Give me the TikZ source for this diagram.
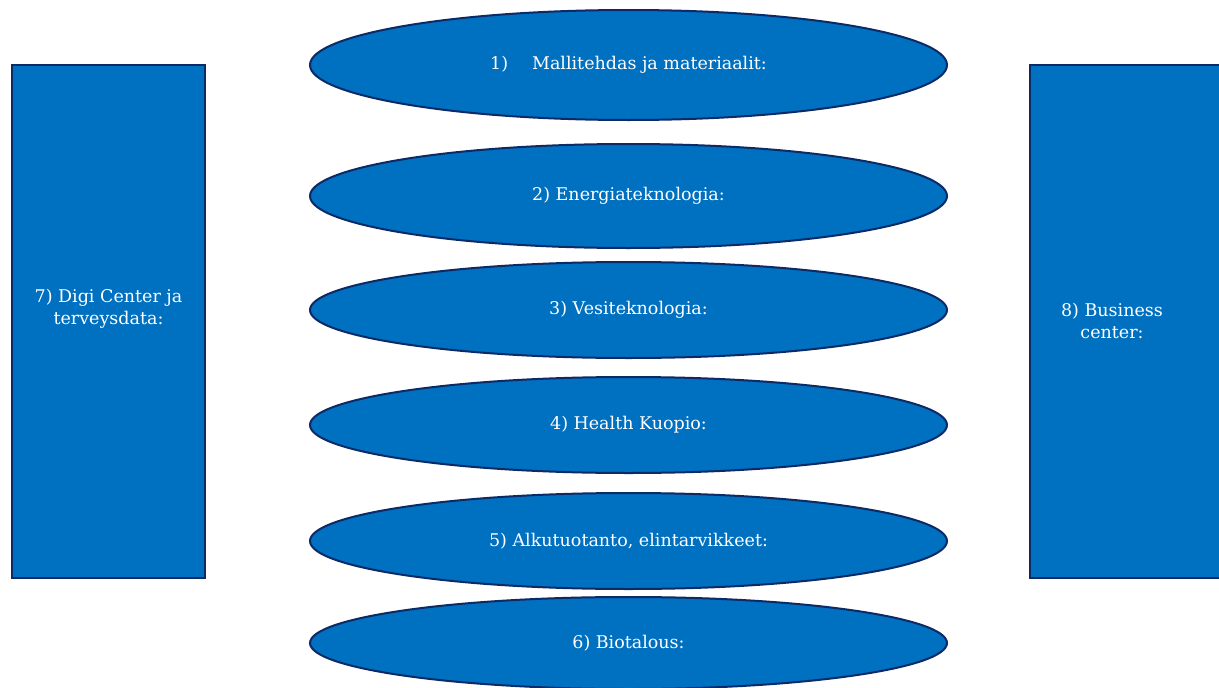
\documentclass[tikz,border=0pt]{standalone}
\usepackage{fontspec}
\setmainfont{DejaVu Serif}
\usetikzlibrary{shapes.geometric}
\definecolor{boxblue}{HTML}{0070C0}
\definecolor{edgeblue}{HTML}{0B2A66}
\begin{document}
\begin{tikzpicture}[x=1pt,y=-1pt,
  blob/.style={ellipse, draw=edgeblue, fill=boxblue, line width=2pt, inner sep=0pt,
    minimum width=637pt, text=white, font=\fontsize{17.5}{22}\selectfont},
  panel/.style={rectangle, draw=edgeblue, fill=boxblue, line width=2pt, inner sep=0pt,
    text=white, align=center, font=\fontsize{17.5}{22}\selectfont},
  lbl/.style={text=white, align=center, font=\fontsize{17.5}{22}\selectfont}]
\useasboundingbox (0,0) rectangle (1219,688);
\fill[white] (0,0) rectangle (1219,688);
\node[panel, minimum width=193pt, minimum height=513pt] (p7) at (108.5,321.5) {};
\node[lbl] (t7) at (108.5,309) {7) Digi Center ja\\terveysdata:};
\node[panel, minimum width=200pt, minimum height=513pt] (p8) at (1130,321.5) {};
\node[lbl] (t8) at (1112,321) {8) Business\\center:};
\node[blob, minimum height=110pt] (e1) at (628.5,65) {1)\hspace{24pt}Mallitehdas ja materiaalit:};
\node[blob, minimum height=104pt] (e2) at (628.5,196) {2) Energiateknologia:};
\node[blob, minimum height=96pt] (e3) at (628.5,310) {3) Vesiteknologia:};
\node[blob, minimum height=96pt] (e4) at (628.5,425) {4) Health Kuopio:};
\node[blob, minimum height=96pt] (e5) at (628.5,541) {5) Alkutuotanto, elintarvikkeet:};
\node[blob, minimum height=92pt] (e6) at (628.5,643) {6) Biotalous:};
\end{tikzpicture}
\end{document}
